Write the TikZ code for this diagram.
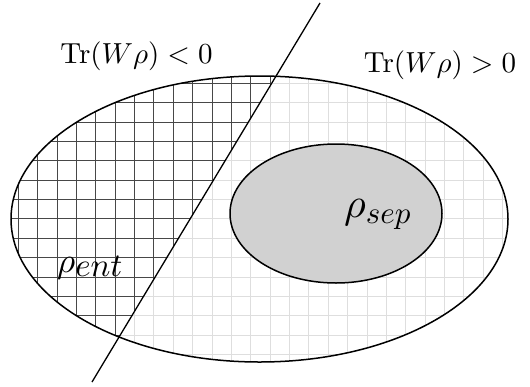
\documentclass[tikz,border=0pt]{standalone}
\begin{document}
\begin{tikzpicture}[x=1pt,y=-1pt,
  outline/.style={line width=1.5pt,black},
  darkgrid/.style={line width=1pt,black!72},
  lightgrid/.style={line width=0.9pt,black!13},
  lbl/.style={inner sep=0pt,anchor=base}]
\useasboundingbox (0,0) rectangle (530,386);
\path[save path=\outerp] (259.5,219) ellipse [x radius=248.5, y radius=143];
\coordinate (l1) at (320,3);
\coordinate (l2) at (92,382);
% light grid (right of line)
\begin{scope}
 \clip[use path=\outerp];
 \clip (343,-35) -- (69,420) -- (600,420) -- (600,-35) -- cycle;
 \foreach \k in {0,...,27} {\draw[lightgrid] (18.3+\k*19.37,0) -- (18.3+\k*19.37,386);}
 \foreach \k in {0,...,20} {\draw[lightgrid] (0,5.85+\k*19.37) -- (530,5.85+\k*19.37);}
\end{scope}
% dark grid (left of line)
\begin{scope}
 \clip[use path=\outerp];
 \clip (343,-35) -- (69,420) -- (-50,420) -- (-50,-35) -- cycle;
 \foreach \k in {0,...,27} {\draw[darkgrid] (18.3+\k*19.37,0) -- (18.3+\k*19.37,386);}
 \foreach \k in {0,...,20} {\draw[darkgrid] (0,5.85+\k*19.37) -- (530,5.85+\k*19.37);}
\end{scope}
\draw[outline,use path=\outerp];
\draw[outline,fill=black!18] (336,213.5) ellipse [x radius=106, y radius=69.5];
\draw[line width=1.3pt] (l1) -- (l2);
\node[lbl] (tlt) at (136.5,63) {\scalebox{2.9}{$\mathrm{Tr}(W\rho)<0$}};
\node[lbl] (tgt) at (440,72) {\scalebox{2.9}{$\mathrm{Tr}(W\rho)>0$}};
\node[lbl,anchor=base west] (ent) at (57,272) {\scalebox{3.5}{$\rho$}\raisebox{-4pt}{\scalebox{3.3}{$ent$}}};
\node[lbl,anchor=base west] (sep) at (344,217) {\scalebox{4.2}{$\rho$}\raisebox{-6pt}{\scalebox{3.1}{$sep$}}};
\end{tikzpicture}
\end{document}
